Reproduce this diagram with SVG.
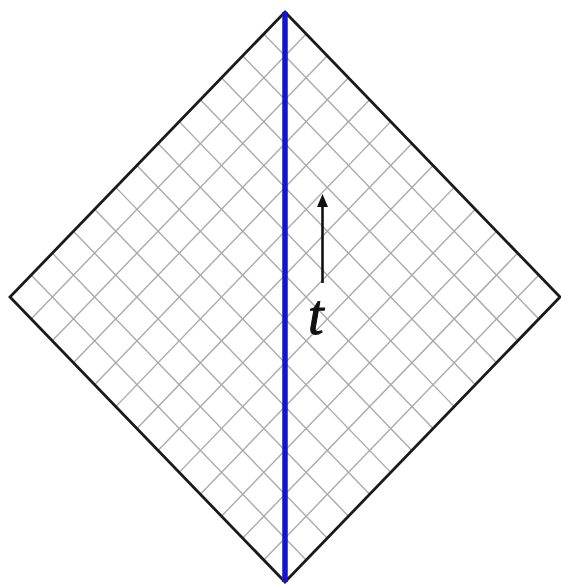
<svg xmlns="http://www.w3.org/2000/svg" width="561" height="584" viewBox="0 0 561 584">
<style>
.grid{stroke:#aaaaaa;stroke-width:1.4;fill:none}
.border{stroke:#1a1a1a;stroke-width:2.8;fill:none;stroke-linejoin:miter}
.world{stroke:#1414cc;stroke-width:5.5}
.arrow{stroke:#111;stroke-width:2.6}
.head{fill:#111}
.lbl{font-family:"Liberation Serif",serif;font-style:italic;font-size:56px;fill:#111;stroke:#111;stroke-width:1}
</style>
<rect width="561" height="584" fill="#fff"/>
<g id="grid" class="grid">
<path d="M31.15,275.08L306.15,560.08M52.31,253.15L327.31,538.15M73.46,231.23L348.46,516.23M94.62,209.31L369.62,494.31M115.77,187.38L390.77,472.38M136.92,165.46L411.92,450.46M158.08,143.54L433.08,428.54M179.23,121.62L454.23,406.62M200.38,99.69L475.38,384.69M221.54,77.77L496.54,362.77M242.69,55.85L517.69,340.85M263.85,33.92L538.85,318.92"/>
<path d="M31.15,318.92L306.15,33.92M52.31,340.85L327.31,55.85M73.46,362.77L348.46,77.77M94.62,384.69L369.62,99.69M115.77,406.62L390.77,121.62M136.92,428.54L411.92,143.54M158.08,450.46L433.08,165.46M179.23,472.38L454.23,187.38M200.38,494.31L475.38,209.31M221.54,516.23L496.54,231.23M242.69,538.15L517.69,253.15M263.85,560.08L538.85,275.08"/>
</g>
<g id="diamond">
<path class="border" d="M285,12L560,297L285,582L10,297Z"/>
</g>
<g id="worldline">
<line class="world" x1="285" y1="12" x2="285" y2="582"/>
</g>
<g id="connectors">
<line class="arrow" x1="322.5" y1="283" x2="322.5" y2="204"/>
<path class="head" d="M322.5,194L328,207L317,207Z"/>
</g>
<g id="label-t">
<text class="lbl" x="308" y="334">t</text>
</g>
</svg>
